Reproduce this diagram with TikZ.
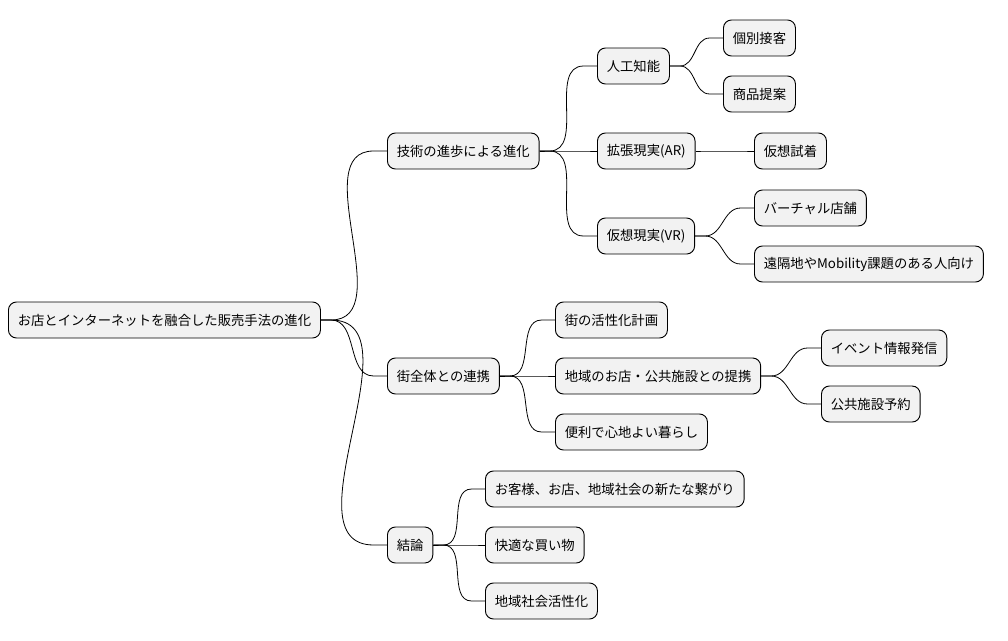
\documentclass[tikz,border=0pt]{standalone}
\usepackage{fontspec}
\setmainfont{Noto Sans CJK JP}
\begin{document}
\begin{tikzpicture}[x=0.75pt,y=-0.75pt,
  nd/.style={draw=black,fill=black!5,rounded corners=6pt,minimum height=27pt,inner xsep=7pt,anchor=west,font=\fontsize{10pt}{12pt}\selectfont,line width=0.7pt},
  ln/.style={draw=black,line width=0.6pt}]
\useasboundingbox (0,0) rectangle (1008,640);
\node[nd] (r) at (8,320) {お店とインターネットを融合した販売手法の進化};
\node[nd] (a) at (387,151) {技術の進歩による進化};
\node[nd] (a1) at (597,66) {人工知能};
\node[nd] (a11) at (723,38) {個別接客};
\node[nd] (a12) at (723,94) {商品提案};
\node[nd] (a2) at (597,151) {拡張現実(AR)};
\node[nd] (a21) at (754,151) {仮想試着};
\node[nd] (a3) at (597,236) {仮想現実(VR)};
\node[nd] (a31) at (754,208) {バーチャル店舗};
\node[nd] (a32) at (754,264) {遠隔地やMobility課題のある人向け};
\node[nd] (b) at (387,376) {街全体との連携};
\node[nd] (b1) at (555,320) {街の活性化計画};
\node[nd] (b2) at (555,376) {地域のお店・公共施設との提携};
\node[nd] (b21) at (821,348) {イベント情報発信};
\node[nd] (b22) at (821,404) {公共施設予約};
\node[nd] (b3) at (555,432) {便利で心地よい暮らし};
\node[nd] (c) at (387,545) {結論};
\node[nd] (c1) at (485,489) {お客様、お店、地域社会の新たな繋がり};
\node[nd] (c2) at (485,545) {快適な買い物};
\node[nd] (c3) at (485,601) {地域社会活性化};
\foreach \p/\c in {r/a,r/b,r/c,a/a1,a/a2,a/a3,a1/a11,a1/a12,a2/a21,a3/a31,a3/a32,b/b1,b/b2,b/b3,b2/b21,b2/b22,c/c1,c/c2,c/c3}
  \draw[ln] (\p.east) -- ++(10,0) to[out=0,in=180] ([xshift=-10]\c.west) -- (\c.west);
\end{tikzpicture}
\end{document}
